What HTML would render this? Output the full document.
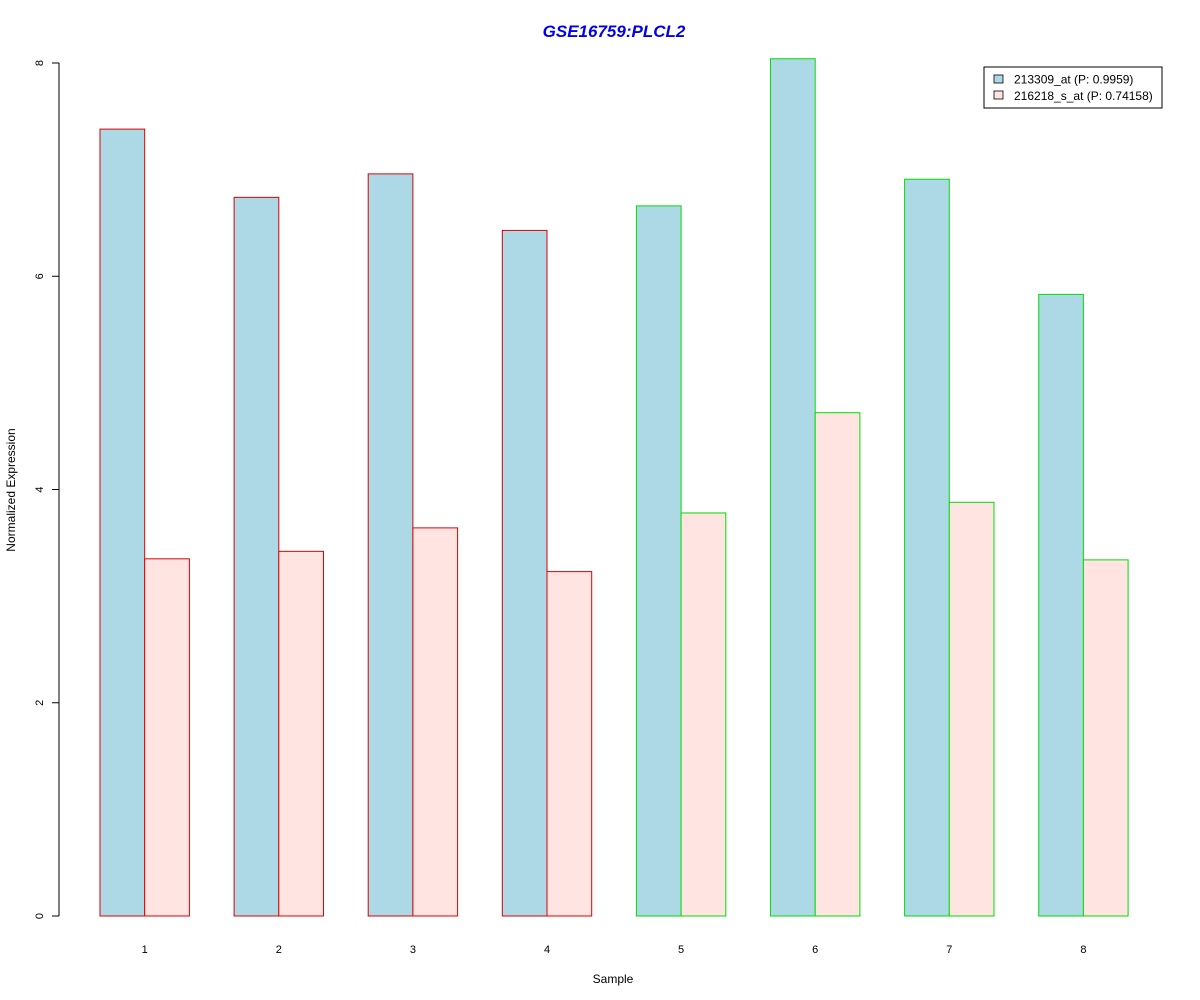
<!DOCTYPE html>
<html><head><meta charset="utf-8"><style>
body{margin:0;background:#fff}
svg{display:block;font-family:"Liberation Sans",Arial,sans-serif}
</style></head><body>
<svg id="chart" width="1200" height="1000">
<text x="614" y="37" text-anchor="middle" font-size="17" font-weight="bold" font-style="italic" fill="#0000ee">GSE16759:PLCL2</text>
<text x="15" y="490" text-anchor="middle" font-size="12" transform="rotate(-90 15 490)">Normalized Expression</text>
<text x="613" y="983" text-anchor="middle" font-size="12">Sample</text>
<g id="bars"></g>
<g id="axis"></g>
<g>
<rect x="984" y="67" width="178" height="41" fill="#fff" stroke="#000" stroke-width="1"/>
<rect x="994" y="75" width="9" height="8" fill="#add8e6" stroke="#000" stroke-width="0.8"/>
<text x="1014" y="83.5" font-size="12">213309_at (P: 0.9959)</text>
<rect x="994" y="91" width="9" height="8" fill="#ffe4e1" stroke="#000" stroke-width="0.8"/>
<text x="1014" y="100" font-size="12">216218_s_at (P: 0.74158)</text>
</g>
</svg>
<script>
const samples = ["1","2","3","4","5","6","7","8"];
const series1 = [7.38,6.74,6.96,6.43,6.66,8.04,6.91,5.83];
const series2 = [3.35,3.42,3.64,3.23,3.78,4.72,3.88,3.34];
const groupColors = ["#e00000","#e00000","#e00000","#e00000","#00dd00","#00dd00","#00dd00","#00dd00"];
const yTicks = [0,2,4,6,8];
const NS="http://www.w3.org/2000/svg";
const y0=916, pxPerUnit=(916-63)/8;
function yScale(v){return y0-v*pxPerUnit;}
const unit=44.7, origin=55.3;
function xBar(i,j){return origin+unit*(3*i+1+j);}
const bars=document.getElementById('bars');
samples.forEach((s,i)=>{
  [series1,series2].forEach((ser,j)=>{
    const r=document.createElementNS(NS,'rect');
    r.setAttribute('x',xBar(i,j));
    r.setAttribute('y',yScale(ser[i]));
    r.setAttribute('width',unit);
    r.setAttribute('height',y0-yScale(ser[i]));
    r.setAttribute('fill',j===0?'#add8e6':'#ffe4e1');
    r.setAttribute('stroke',groupColors[i]);
    r.setAttribute('stroke-width','1');
    
    
    bars.appendChild(r);
  });
  const t=document.createElementNS(NS,'text');
  t.setAttribute('x',xBar(i,1));
  t.setAttribute('y',953);
  t.setAttribute('text-anchor','middle');
  t.setAttribute('font-size','11');
  t.textContent=s;
  
  
  bars.appendChild(t);
});
const ax=document.getElementById('axis');
const line=document.createElementNS(NS,'line');
line.setAttribute('x1',59);line.setAttribute('x2',59);
line.setAttribute('y1',yScale(yTicks[0]));line.setAttribute('y2',yScale(yTicks[yTicks.length-1]));
line.setAttribute('stroke','#000');


ax.appendChild(line);
yTicks.forEach(v=>{
  const y=yScale(v);
  const tk=document.createElementNS(NS,'line');
  tk.setAttribute('x1',52);tk.setAttribute('x2',59);tk.setAttribute('y1',y);tk.setAttribute('y2',y);
  tk.setAttribute('stroke','#000');
  
  
  ax.appendChild(tk);
  const t=document.createElementNS(NS,'text');
  t.setAttribute('x',43);t.setAttribute('y',y);
  t.setAttribute('text-anchor','middle');
  t.setAttribute('font-size','11');
  t.setAttribute('transform','rotate(-90 43 '+y+')');
  t.textContent=v;
  
  
  ax.appendChild(t);
});
</script>
</body></html>
